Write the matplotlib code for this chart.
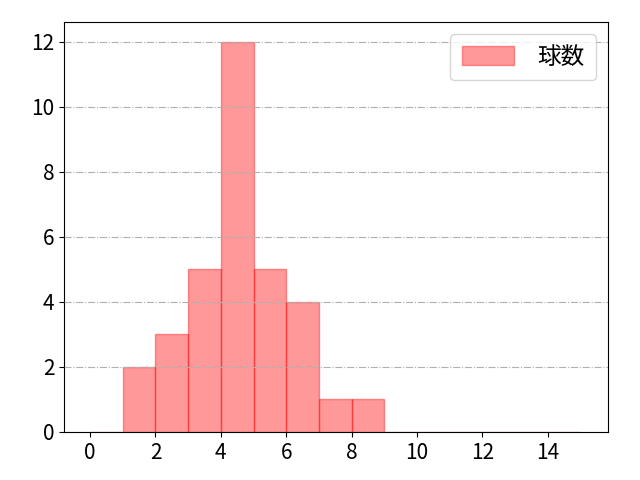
import numpy as np
import matplotlib
matplotlib.use("Agg")
import matplotlib.pyplot as plt

plt.rcParams['font.family'] = ['Noto Sans CJK JP', 'DejaVu Sans']

# 区間ごとの度数
bin_edges = [0, 1, 2, 3, 4, 5, 6, 7, 8, 9, 10, 11, 12, 13, 14, 15]
counts = [0, 2, 3, 5, 12, 5, 4, 1, 1, 0, 0, 0, 0, 0, 0]
label = "球数"

fig, ax = plt.subplots(figsize=(6.4, 4.8), dpi=100)
fig.subplots_adjust(left=0.1, right=0.95, top=0.954, bottom=0.1)
ax.hist(bin_edges[:-1], bins=bin_edges, weights=counts,
        color="red", alpha=0.4, edgecolor="red", linewidth=1, label=label)

ax.set_xlim(-0.8, 15.85)
ax.set_ylim(0, 12.6)
ax.set_xticks(range(0, 15, 2))
ax.set_yticks(range(0, 13, 2))
ax.tick_params(labelsize=15)
ax.grid(True, axis="y", linestyle="-.", color="#b0b0b0")
ax.set_axisbelow(False)
ax.legend(fontsize=17, handlelength=2.2, handleheight=0.8,
          handletextpad=1.0, borderpad=0.5, loc="upper right")

plt.savefig("out.png", dpi=100)
plt.close()
